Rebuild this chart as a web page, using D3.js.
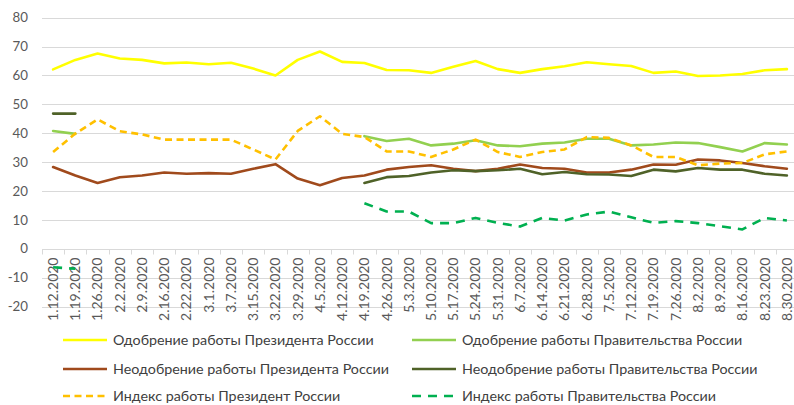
<!DOCTYPE html>
<html>
<head>
<meta charset="utf-8">
<script src="https://cdn.jsdelivr.net/npm/d3@7/dist/d3.min.js"></script>
<style>
  body { margin: 0; background: #fff; }
  svg { font-family: Lato, "Open Sans", sans-serif; }
  .grid line { stroke: #d9d9d9; stroke-width: 1; }
  .tick-label { fill: #595959; font-size: 13.3px; }
  .x-label { fill: #595959; font-size: 14px; }
  .legend text { fill: #404040; font-size: 14.3px; }
</style>
</head>
<body>
<svg id="chart" width="794" height="405" viewBox="0 0 794 405"></svg>
<script>
/* global d3 */
const dates = ['1.12.2020', '1.19.2020', '1.26.2020', '2.2.2020', '2.9.2020', '2.16.2020', '2.22.2020',
  '3.1.2020', '3.7.2020', '3.15.2020', '3.22.2020', '3.29.2020', '4.5.2020', '4.12.2020', '4.19.2020',
  '4.26.2020', '5.3.2020', '5.10.2020', '5.17.2020', '5.24.2020', '5.31.2020', '6.7.2020', '6.14.2020',
  '6.21.2020', '6.28.2020', '7.5.2020', '7.12.2020', '7.19.2020', '7.26.2020', '8.2.2020', '8.9.2020',
  '8.16.2020', '8.23.2020', '8.30.2020'];

const yTicks = [-20, -10, 0, 10, 20, 30, 40, 50, 60, 70, 80];

const presApproval = [62.1, 65.4, 67.6, 65.9, 65.4, 64.2, 64.5, 63.9, 64.4, 62.4, 60, 65.4, 68.3, 64.7,
  64.3, 61.9, 61.8, 60.9, 63, 65, 62.2, 60.9, 62.2, 63.2, 64.6, 63.9, 63.3, 60.9, 61.4, 59.8, 60,
  60.5, 61.8, 62.2];
const govApproval = [40.8, 39.8, null, null, null, null, null, null, null, null, null, null, null, null,
  39, 37.3, 38.1, 35.8, 36.4, 37.6, 35.8, 35.5, 36.4, 36.8, 38.1, 38.1, 35.8, 36.1, 36.8, 36.6, 35.2,
  33.7, 36.6, 36.1];
const presDisapproval = [28.3, 25.4, 22.8, 24.8, 25.4, 26.4, 26, 26.2, 26, 27.7, 29.3, 24.3, 22, 24.5,
  25.4, 27.4, 28.3, 28.9, 27.7, 26.9, 27.7, 29.2, 28, 27.7, 26.4, 26.4, 27.4, 29.2, 29.1, 30.9, 30.6,
  29.7, 28.6, 27.7];
const govDisapproval = [46.8, 46.8, null, null, null, null, null, null, null, null, null, null, null, null,
  22.8, 24.8, 25.2, 26.4, 27.2, 26.9, 27.2, 27.7, 25.8, 26.6, 25.8, 25.7, 25.2, 27.4, 26.8, 28, 27.4,
  27.4, 26, 25.4];
const presIndex = [33.5, 39.9, 44.8, 40.7, 39.6, 37.8, 37.8, 37.8, 37.8, 34.4, 30.9, 40.8, 45.9, 39.8,
  38.7, 33.7, 33.7, 31.8, 34.4, 37.8, 33.5, 31.8, 33.5, 34.4, 38.7, 38.4, 35.8, 31.8, 31.8, 28.9, 29.5,
  29.7, 32.7, 33.7];
const govIndex = [-6.4, -6.9, null, null, null, null, null, null, null, null, null, null, null, null,
  15.8, 12.9, 12.9, 8.9, 8.9, 10.7, 9, 7.7, 10.7, 9.8, 11.9, 12.9, 10.9, 9, 9.6, 8.9, 7.8, 6.7, 10.7, 9.8];

// drawing order follows the legend order (left column, then right column)
const series = [
  { name: 'Одобрение работы Президента России', values: presApproval, color: '#ffff00', dash: null },
  { name: 'Одобрение работы Правительства России', values: govApproval, color: '#92d050', dash: null },
  { name: 'Неодобрение работы Президента России', values: presDisapproval, color: '#a04a1c', dash: null },
  { name: 'Неодобрение работы Правительства России', values: govDisapproval, color: '#4f6228', dash: null },
  { name: 'Индекс работы Президент России', values: presIndex, color: '#ffc000', dash: '7,4.5' },
  { name: 'Индекс работы Правительства России', values: govIndex, color: '#00b050', dash: '9,7' },
];

const main = () => {
  const svg = d3.select('#chart');
  const left = 42;
  const right = 798;

  const x = d3.scaleBand().domain(dates).range([left, right]);
  const y = d3.scaleLinear().domain([-20, 80]).range([306.6, 17.7]);

  // horizontal gridlines
  svg.append('g').attr('class', 'grid')
    .selectAll('line')
    .data(yTicks)
    .enter()
    .append('line')
    .attr('x1', left)
    .attr('x2', 794)
    .attr('y1', (d) => Math.round(y(d)) + 0.5)
    .attr('y2', (d) => Math.round(y(d)) + 0.5);

  // y tick labels
  svg.append('g')
    .selectAll('text')
    .data(yTicks)
    .enter()
    .append('text')
    .attr('class', 'tick-label')
    .attr('x', 28)
    .attr('y', (d) => y(d))
    .attr('dy', '0.35em')
    .attr('text-anchor', 'end')
    .text((d) => d);

  // category axis at zero
  const y0 = Math.round(y(0)) + 0.5;
  const axis = svg.append('g').attr('class', 'grid');
  const bounds = dates.map((d) => x(d)).concat([right]);
  axis.selectAll('line.tk')
    .data(bounds)
    .enter()
    .append('line')
    .attr('class', 'tk')
    .attr('x1', (d) => Math.round(d) + 0.5)
    .attr('x2', (d) => Math.round(d) + 0.5)
    .attr('y1', y0)
    .attr('y2', y0 + 5);

  svg.append('g')
    .selectAll('text')
    .data(dates)
    .enter()
    .append('text')
    .attr('class', 'x-label')
    .attr('text-anchor', 'end')
    .attr('dy', '0.35em')
    .attr('transform', (d) => `translate(${x(d) + x.bandwidth() / 2},${y0 + 8}) rotate(-90)`)
    .text((d) => d);

  // series lines
  const line = d3.line()
    .defined((d) => d.v !== null)
    .x((d) => x(d.date) + x.bandwidth() / 2)
    .y((d) => y(d.v));

  const lines = svg.append('g');
  series.forEach((s) => {
    const pts = s.values.map((v, i) => ({ date: dates[i], v }));
    lines.append('path')
      .attr('d', line(pts))
      .attr('fill', 'none')
      .attr('stroke', s.color)
      .attr('stroke-width', 2.6)
      .attr('stroke-linejoin', 'round')
      .attr('stroke-linecap', s.dash ? 'butt' : 'round')
      .attr('stroke-dasharray', s.dash);
  });

  // legend: two columns, three rows
  const legend = svg.append('g').attr('class', 'legend');
  const colX = [63, 412];
  const rowY = [340, 369, 396];
  series.forEach((s, i) => {
    const cx = colX[i % 2];
    const cy = rowY[Math.floor(i / 2)];
    legend.append('line')
      .attr('x1', cx)
      .attr('x2', cx + 44)
      .attr('y1', cy)
      .attr('y2', cy)
      .attr('stroke', s.color)
      .attr('stroke-width', 2.6)
      .attr('stroke-dasharray', s.dash);
    legend.append('text')
      .attr('x', cx + 50)
      .attr('y', cy)
      .attr('dy', '0.35em')
      .text(s.name);
  });
};
main();
</script>
</body>
</html>
